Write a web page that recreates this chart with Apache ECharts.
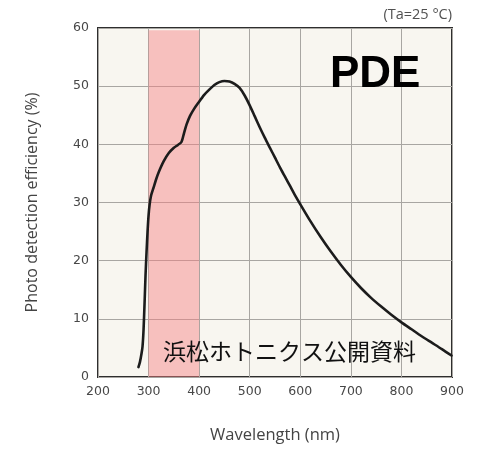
<!DOCTYPE html>
<html>
<head>
<meta charset="utf-8">
<script src="https://cdn.jsdelivr.net/npm/echarts@6/dist/echarts.min.js"></script>
<style>
  html, body { margin: 0; padding: 0; background: #ffffff; }
  #chart { width: 481px; height: 449px; }
</style>
</head>
<body>
<div id="chart"></div>
<script>
// Photon detection efficiency versus wavelength
const wavelength = [280, 283, 286, 288, 290, 292, 294, 296, 298, 300, 302, 305, 310, 315, 320, 330, 340, 350, 358, 365, 370, 375, 382, 390, 398,
                    410, 420, 430, 440, 450, 460, 470, 480, 490, 500, 510, 520, 530, 540, 550, 560, 570, 580, 590, 600,
                    620, 640, 660, 680, 700, 720, 740, 760, 780, 800, 820, 840, 860, 880, 899];
const pde        = [1.7, 2.6, 4.0, 5.2, 8.0, 12.5, 17.5, 21.5, 25.0, 27.8, 29.6, 31.2, 32.6, 34.0, 35.2, 37.1, 38.5, 39.4, 39.9, 40.4, 41.9, 43.4, 44.9, 46.1, 47.1,
                    48.5, 49.4, 50.2, 50.7, 50.9, 50.8, 50.4, 49.7, 48.4, 46.7, 44.8, 42.9, 41.1, 39.4, 37.7, 36.0, 34.4, 32.8, 31.2, 29.7,
                    26.8, 24.1, 21.6, 19.3, 17.2, 15.3, 13.6, 12.1, 10.7, 9.4, 8.2, 7.0, 5.9, 4.8, 3.7];
const bandRange = [300, 400];
const xTicks = [200, 300, 400, 500, 600, 700, 800, 900];
const yTicks = [0, 10, 20, 30, 40, 50, 60];

const curve = wavelength.map((w, i) => [w, pde[i]]);

const chart = echarts.init(document.getElementById('chart'), null, { renderer: 'canvas' });
const tickFont = { color: '#474747', fontSize: 12.5, fontFamily: 'DejaVu Sans' };

chart.setOption({
  animation: false,
  backgroundColor: '#ffffff',
  grid: {
    left: 98, right: 29, top: 28, bottom: 69,
    show: true,
    backgroundColor: '#f8f6f0',
    borderColor: '#2e2e2e',
    borderWidth: 2,
    z: 0
  },
  xAxis: {
    type: 'value',
    min: xTicks[0], max: xTicks[xTicks.length - 1], interval: 100,
    name: 'Wavelength (nm)',
    nameLocation: 'middle',
    nameGap: 50,
    nameTextStyle: { color: '#444', fontSize: 16.5, fontFamily: 'Open Sans' },
    axisLine: { show: false },
    axisTick: { show: false },
    axisLabel: Object.assign({ margin: 8 }, tickFont),
    splitLine: { show: true, lineStyle: { color: '#a8a6a2', width: 1 } }
  },
  yAxis: {
    type: 'value',
    min: yTicks[0], max: yTicks[yTicks.length - 1], interval: 10,
    name: 'Photo detection efficiency (%)',
    nameLocation: 'middle',
    nameGap: 58,
    nameTextStyle: { color: '#444', fontSize: 16, fontFamily: 'Open Sans' },
    axisLine: { show: false },
    axisTick: { show: false },
    axisLabel: Object.assign({ margin: 9 }, tickFont),
    splitLine: { show: true, lineStyle: { color: '#a8a6a2', width: 1 } }
  },
  graphic: [
    {
      type: 'text', right: 29, top: 7, z: 100,
      style: { text: '(Ta=25 °C)', fill: '#505050', font: '14.5px "Open Sans"', textAlign: 'right' }
    },
    {
      type: 'text', left: 330, top: 53, z: 100,
      style: { text: 'PDE', fill: '#000000', font: 'bold 44px "Liberation Sans"' }
    },
    {
      type: 'text', left: 163, top: 340, z: 100,
      style: { text: '浜松ホトニクス公開資料', fill: '#111111', font: '23px "Noto Sans CJK JP"' }
    }
  ],
  series: [
    {
      type: 'line',
      data: curve,
      smooth: 0.25,
      showSymbol: false,
      lineStyle: { color: '#1c1c1c', width: 2.6, cap: 'round', join: 'round' },
      z: 3,
      markArea: {
        silent: true,
        itemStyle: { color: 'rgba(247,127,129,0.45)' },
        data: [[{ xAxis: bandRange[0], yAxis: 0 }, { xAxis: bandRange[1], yAxis: 59.6 }]]
      }
    }
  ]
});
</script>
</body>
</html>
